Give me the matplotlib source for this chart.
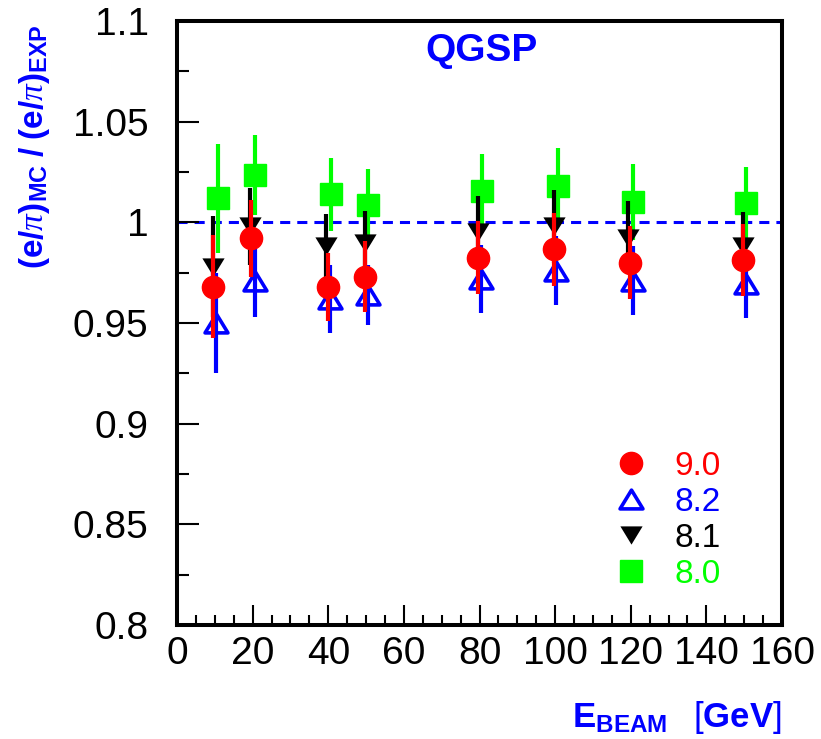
import matplotlib
matplotlib.use("Agg")
import matplotlib.pyplot as plt
from matplotlib.path import Path
from matplotlib.ticker import MultipleLocator
from matplotlib.lines import Line2D

plt.rcParams['font.family'] = ['Liberation Sans', 'DejaVu Sans']
plt.rcParams['mathtext.fontset'] = 'custom'
plt.rcParams['mathtext.rm'] = 'Liberation Sans'
plt.rcParams['mathtext.bf'] = 'Liberation Sans:bold'
plt.rcParams['mathtext.it'] = 'Liberation Serif:italic'
plt.rcParams['mathtext.sf'] = 'Liberation Sans'

# Geant4 versions
versions = ["9.0", "8.2", "8.1", "8.0"]

# beam energies (GeV), each series drawn slightly shifted
e_v90 = [9.6, 19.7, 39.9, 49.7, 79.7, 99.8, 119.8, 149.7]
e_v82 = [10.4, 20.5, 40.4, 50.4, 80.4, 100.3, 120.5, 150.4]
e_v81 = [9.4, 19.4, 39.4, 49.6, 79.7, 99.6, 119.4, 149.7]
e_v80 = [10.8, 20.6, 40.7, 50.6, 80.6, 100.7, 120.6, 150.6]

# (e/pi)_MC / (e/pi)_EXP ratio and uncertainties
r_v90 = [0.968, 0.992, 0.968, 0.973, 0.9825, 0.9866, 0.980, 0.9812]
s_v90 = [0.0255, 0.019, 0.017, 0.0175, 0.018, 0.018, 0.018, 0.018]
r_v82 = [0.950, 0.971, 0.962, 0.964, 0.9718, 0.976, 0.971, 0.9693]
s_v82 = [0.025, 0.018, 0.017, 0.015, 0.017, 0.017, 0.017, 0.017]
r_v81 = [0.978, 0.998, 0.988, 0.9896, 0.9952, 0.998, 0.9924, 0.9883]
s_v81 = [0.025, 0.019, 0.016, 0.016, 0.018, 0.018, 0.018, 0.017]
r_v80 = [1.012, 1.0236, 1.0139, 1.0084, 1.0158, 1.0178, 1.010, 1.0096]
s_v80 = [0.027, 0.020, 0.018, 0.018, 0.018, 0.019, 0.019, 0.018]

RED, BLUE, BLACK, GREEN = "#ff0000", "#0000ff", "#000000", "#00ff00"

tri_up = Path([(0, 0.82), (-1, -0.82), (1, -0.82), (0, 0.82)],
              [Path.MOVETO, Path.LINETO, Path.LINETO, Path.CLOSEPOLY])
tri_dn = Path([(0, -0.82), (-1, 0.82), (1, 0.82), (0, -0.82)],
              [Path.MOVETO, Path.LINETO, Path.LINETO, Path.CLOSEPOLY])

fig = plt.figure(figsize=(8.21, 7.39), dpi=100)
ax = fig.add_axes([177 / 821, 114 / 739, 605 / 821, 604 / 739])

ax.axhline(1.0, color=BLUE, lw=2.2, ls=(0, (3.3, 2.3)), zorder=1)

ax.errorbar(e_v80, r_v80, yerr=s_v80, fmt='s', color=GREEN, ms=16,
            mec=GREEN, elinewidth=3, capsize=0, zorder=2)
ax.errorbar(e_v81, r_v81, yerr=s_v81, fmt='none', ecolor=BLACK,
            elinewidth=3, capsize=0, zorder=3)
ax.plot(e_v81, r_v81, ls='none', marker=tri_dn, ms=16, color=BLACK,
        mec=BLACK, mew=0, zorder=3)
ax.errorbar(e_v82, r_v82, yerr=s_v82, fmt='none', ecolor=BLUE,
            elinewidth=3, capsize=0, zorder=4)
ax.plot(e_v82, r_v82, ls='none', marker=tri_up, ms=16.5, mfc='none',
        mec=BLUE, mew=2.6, zorder=4)
ax.errorbar(e_v90, r_v90, yerr=s_v90, fmt='o', color=RED, ms=16,
            mec=RED, elinewidth=3, capsize=0, zorder=5)

ax.set_xlim(0, 160)
ax.set_ylim(0.8, 1.1)
ax.xaxis.set_major_locator(MultipleLocator(20))
ax.xaxis.set_minor_locator(MultipleLocator(5))
ax.yaxis.set_major_locator(MultipleLocator(0.05))
ax.yaxis.set_minor_locator(MultipleLocator(0.025))
ax.yaxis.set_major_formatter(plt.FuncFormatter(lambda v, p: f"{v:g}"))

for s in ax.spines.values():
    s.set_linewidth(2.9)
ax.tick_params(which='both', direction='in', top=False, right=False,
               width=1.5, color='black')
ax.tick_params(axis='x', which='major', length=14.4, labelsize=28, pad=8)
ax.tick_params(axis='x', which='minor', length=7.2)
ax.tick_params(axis='y', which='major', length=16, labelsize=28, pad=20.5)
ax.tick_params(axis='y', which='minor', length=8.5)

fig.text(481 / 821, 1 - 51 / 739, "QGSP", color=BLUE, fontsize=28,
         fontweight='bold', ha='center', va='center')

fig.text(35 / 821, 1 - 147 / 739,
         r'$\mathbf{(e/}\pi\mathbf{)}_{\mathbf{MC}}\mathbf{\ /\ (e/}\pi\mathbf{)}_{\mathbf{EXP}}$',
         color=BLUE, fontsize=24, rotation=90, ha='center', va='center')

fig.text(781 / 821, 1 - 727 / 739,
         r'$\mathbf{E}_{\mathbf{BEAM}}\ \ \ \mathrm{[}\mathbf{GeV}\mathrm{]}$',
         color=BLUE, fontsize=25, ha='right', va='baseline')

handles = [
    Line2D([], [], ls='none', marker='o', ms=16, color=RED, mec=RED),
    Line2D([], [], ls='none', marker=tri_up, ms=16.5, mfc='none', mec=BLUE, mew=2.6),
    Line2D([], [], ls='none', marker=tri_dn, ms=16, color=BLACK, mew=0),
    Line2D([], [], ls='none', marker='s', ms=16, color=GREEN, mec=GREEN),
]
ax.legend(handles, versions, labelcolor=[RED, BLUE, BLACK, GREEN],
          frameon=False, fontsize=24, loc='upper left',
          bbox_to_anchor=((614 - 177) / 605, (625 - 451) / 604),
          handlelength=1.0, handletextpad=0.82, labelspacing=0.15,
          borderaxespad=0, borderpad=0)

fig.savefig("out.png", dpi=100)
